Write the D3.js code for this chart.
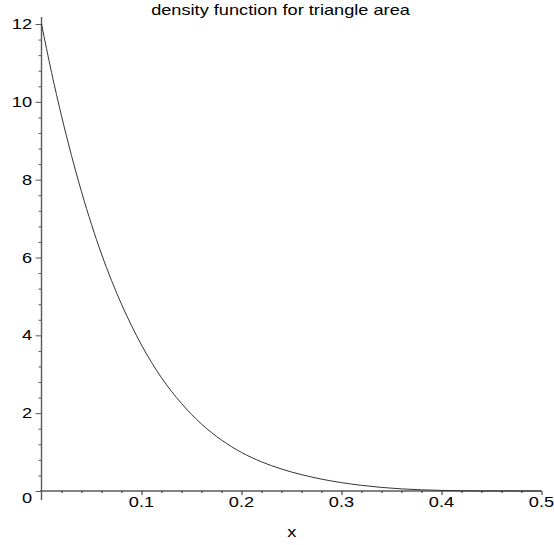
<!DOCTYPE html>
<html>
<head>
<meta charset="utf-8">
<script src="https://cdn.jsdelivr.net/npm/d3@7"></script>
<style>
  html, body { margin: 0; padding: 0; background: #fff; }
  svg { display: block; }
  text { font-family: "Liberation Sans", Arial, Helvetica, sans-serif; fill: #000; }
</style>
</head>
<body>
<svg id="chart" width="554" height="545"></svg>
<script>
// Density of the triangle area, sampled along x
const xValues = [0.00, 0.01, 0.02, 0.03, 0.04, 0.05, 0.06, 0.07, 0.08, 0.09, 0.10,
                 0.12, 0.14, 0.16, 0.18, 0.20, 0.22, 0.24, 0.26, 0.28, 0.30,
                 0.32, 0.34, 0.36, 0.38, 0.40, 0.42, 0.44, 0.46, 0.48, 0.50];
const densityValues = [12.00, 10.76, 9.64, 8.62, 7.69, 6.85, 6.09, 5.41, 4.80, 4.25, 3.75,
                       2.91, 2.25, 1.72, 1.31, 0.99, 0.75, 0.565, 0.42, 0.305, 0.215,
                       0.145, 0.092, 0.055, 0.030, 0.015, 0.0065, 0.0025, 0.0008, 0.0002, 0.0];

const xMajorTicks = [0.1, 0.2, 0.3, 0.4, 0.5];
const xTickLabels = ["0.1", "0.2", "0.3", "0.4", "0.5"];
const yMajorTicks = [0, 2, 4, 6, 8, 10, 12];
const yTickLabels = ["0", "2", "4", "6", "8", "10", "12"];
const xMinorTicks = d3.range(0.02, 0.5, 0.02).filter(v => Math.abs(v * 10 - Math.round(v * 10)) > 1e-6);
const yMinorTicks = d3.range(0.4, 12.1, 0.4).filter(v => Math.abs(v / 2 - Math.round(v / 2)) > 1e-6);

const titleText = "density function for triangle area";
const xAxisTitle = "x";

const svg = d3.select("#chart");
const axisColor = "#5a5a5a";
const stretch = 1.3;   // glyphs are set wide, as in the original plot device

const x = d3.scaleLinear().domain([0, 0.5]).range([41.5, 541.5]);
const y = d3.scaleLinear().domain([0, 12]).range([491, 24]);

// axis lines
svg.append("line")
  .attr("x1", x(0) - 1.5).attr("x2", x(0.5))
  .attr("y1", y(0)).attr("y2", y(0))
  .attr("stroke", axisColor).attr("stroke-width", 1.4);
svg.append("line")
  .attr("x1", x(0)).attr("x2", x(0))
  .attr("y1", y(-0.23)).attr("y2", y(12.18))
  .attr("stroke", axisColor).attr("stroke-width", 1.4);

// x axis ticks
const gx = svg.append("g").attr("transform", `translate(0,${y(0)})`);
gx.call(d3.axisBottom(x).tickValues(xMajorTicks).tickSize(4).tickFormat(""));
gx.append("g").call(d3.axisBottom(x).tickValues(xMinorTicks).tickSize(2).tickFormat(""));
gx.selectAll(".domain").remove();
gx.selectAll(".tick line").attr("stroke", "#222").attr("stroke-width", 1);

// y axis ticks
const gy = svg.append("g").attr("transform", `translate(${x(0)},0)`);
gy.call(d3.axisLeft(y).tickValues(yMajorTicks).tickSize(6).tickFormat(""));
gy.append("g").call(d3.axisLeft(y).tickValues(yMinorTicks).tickSize(3).tickFormat(""));
gy.selectAll(".domain").remove();
gy.selectAll(".tick line").attr("stroke", axisColor).attr("stroke-width", 1);

// tick labels
svg.append("g").selectAll("text")
  .data(xMajorTicks)
  .join("text")
  .attr("transform", d => `translate(${x(d)},${y(0) + 16}) scale(${stretch},1)`)
  .attr("text-anchor", "middle")
  .attr("font-size", 14)
  .text((d, i) => xTickLabels[i]);

svg.append("g").selectAll("text")
  .data(yMajorTicks)
  .join("text")
  .attr("transform", d => `translate(${x(0) - 9.5},${y(d) + (d === 0 ? 11.5 : 5)}) scale(${stretch},1)`)
  .attr("text-anchor", "end")
  .attr("font-size", 14)
  .text((d, i) => yTickLabels[i]);

// density curve
const line = d3.line()
  .x((d, i) => x(xValues[i]))
  .y(d => y(d))
  .curve(d3.curveMonotoneX);
svg.append("path")
  .datum(densityValues)
  .attr("d", line)
  .attr("fill", "none")
  .attr("stroke", "#333")
  .attr("stroke-width", 1);

// titles
svg.append("text")
  .attr("transform", `translate(280.5,15) scale(${stretch},1)`)
  .attr("text-anchor", "middle")
  .attr("font-size", 14)
  .text(titleText);
svg.append("text")
  .attr("transform", `translate(291.7,537) scale(${stretch},1)`)
  .attr("text-anchor", "middle")
  .attr("font-size", 14)
  .text(xAxisTitle);
</script>
</body>
</html>
